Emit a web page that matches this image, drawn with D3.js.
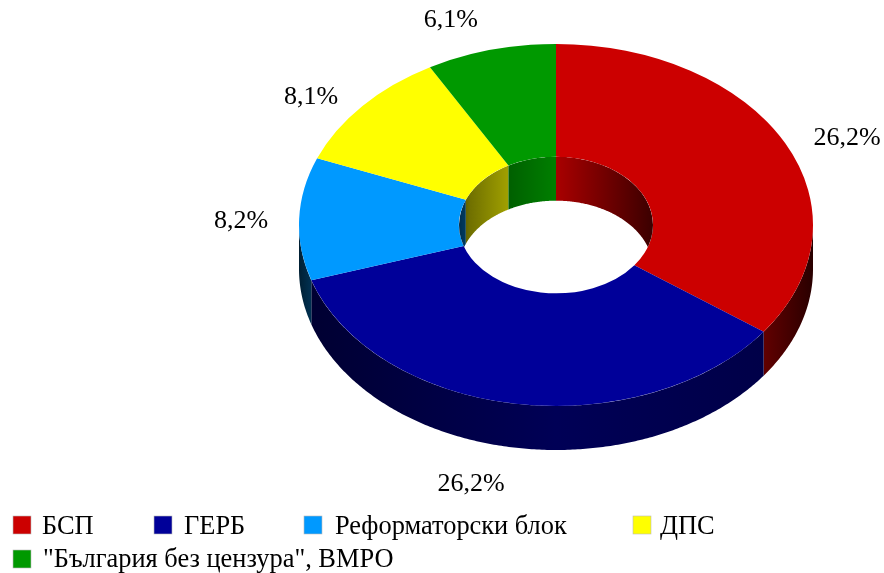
<!DOCTYPE html>
<html><head><meta charset="utf-8">
<script src="https://cdn.jsdelivr.net/npm/d3@7/dist/d3.min.js"></script>
<style>html,body{margin:0;padding:0;background:#fff}svg{display:block;filter:blur(0.4px)}text{font-family:"Liberation Serif","Times New Roman",serif;fill:#000}</style>
</head><body><div id="chart"></div>
<script>
const categories = ["БСП","ГЕРБ","Реформаторски блок","ДПС","\"България без цензура\", ВМРО"];
const values = [26.2,26.2,8.2,8.1,6.1];
const valueLabels = ["26,2%","26,2%","8,2%","8,1%","6,1%"];
const colors = ["#cc0000","#000099","#0099ff","#ffff00","#009900"];

const W=884,H=573,cx=556,cy=225,rx=257,ry=181,irx=97,depth=44;
const ky=ry/rx, iry=irx*ky;
const svg=d3.select("#chart").append("svg").attr("width",W).attr("height",H);
const defs=svg.append("defs");
const pie=d3.pie().sort(null).value(d=>d);
const slices=pie(values);

const shade=(c,m)=>{const r=d3.rgb(c);return d3.rgb(r.r*m,r.g*m,r.b*m).formatHex();};
const outerStops=[[cx-rx,.2],[cx-rx+13,.33],[cx,.56],[cx+rx-48,.47],[cx+rx,.2]];
const innerStops=[[cx-irx,.3],[cx-irx+11,.44],[cx-47,.63],[cx,.83],[cx+irx,.29]];
function grad(id,color,stops,x0,x1){
  const g=defs.append("linearGradient").attr("id",id).attr("gradientUnits","userSpaceOnUse")
    .attr("x1",x0).attr("x2",x1).attr("y1",0).attr("y2",0);
  stops.forEach(([x,m])=>g.append("stop").attr("offset",(x-x0)/(x1-x0)).attr("stop-color",shade(color,m)));
}
colors.forEach((c,i)=>{grad("o"+i,c,outerStops,cx-rx,cx+rx);grad("i"+i,c,innerStops,cx-irx,cx+irx);});
defs.append("clipPath").attr("id","hole").append("ellipse")
  .attr("cx",cx).attr("cy",cy).attr("rx",irx).attr("ry",iry);

const pt=(a,rX,rY,dy=0)=>[cx+rX*Math.sin(a),cy-rY*Math.cos(a)+dy];
const line=d3.line();
function band(a0,a1,rX,rY){
  const n=Math.max(2,Math.ceil((a1-a0)/0.01));
  const as=d3.range(n+1).map(i=>a0+(a1-a0)*i/n);
  return line(as.map(a=>pt(a,rX,rY)).concat(as.slice().reverse().map(a=>pt(a,rX,rY,depth))))+"Z";
}
// outer wall: front half of the ring
const gWall=svg.append("g");
slices.forEach((s,i)=>{
  const a0=Math.max(s.startAngle,Math.PI/2),a1=Math.min(s.endAngle,Math.PI*1.5);
  if(a1>a0) gWall.append("path").attr("d",band(a0,a1,rx,ry)).attr("fill",`url(#o${i})`);
});
// top face
const arc=d3.arc().innerRadius(irx).outerRadius(rx);
svg.append("g").attr("transform",`translate(${cx},${cy}) scale(1,${ky})`)
  .selectAll("path").data(slices).join("path").attr("d",arc).attr("fill",(d,i)=>colors[i]);
// inner wall: back half of the hole
const gInner=svg.append("g").attr("clip-path","url(#hole)");
slices.forEach((s,i)=>{
  [[s.startAngle,Math.min(s.endAngle,Math.PI/2)],[Math.max(s.startAngle,Math.PI*1.5),s.endAngle]].forEach(([a0,a1])=>{
    if(a1>a0) gInner.append("path").attr("d",band(a0,a1,irx,iry)).attr("fill",`url(#i${i})`);
  });
});
// value labels: offset from the rim point at each slice's mid-angle
const labelOffset=[[62,2],[-44,87],[-58,9],[-51.5,-2],[-40,-23]];
const mid=d=>(d.startAngle+d.endAngle)/2;
svg.append("g").selectAll("text").data(slices).join("text")
  .attr("text-anchor","middle").attr("font-size",26)
  .attr("x",(d,i)=>pt(mid(d),rx,ry)[0]+labelOffset[i][0])
  .attr("y",(d,i)=>pt(mid(d),rx,ry)[1]+labelOffset[i][1])
  .text((d,i)=>valueLabels[i]);
// legend
const legendX=[13,154,304,633,13],legendRow=[0,0,0,0,1],legendTextX=[29,30,31,27,30];
const rowY=d3.scaleOrdinal([0,1],[516,550]);
const lg=svg.append("g").selectAll("g").data(categories).join("g")
  .attr("transform",(d,i)=>`translate(${legendX[i]},${rowY(legendRow[i])})`);
lg.append("rect").attr("width",18).attr("height",18).attr("fill",(d,i)=>colors[i]).attr("stroke","#bbb").attr("stroke-width",.6);
lg.append("text").attr("x",(d,i)=>legendTextX[i]).attr("y",(d,i)=>18-legendRow[i]).attr("font-size",26.4).text(d=>d);
</script></body></html>
